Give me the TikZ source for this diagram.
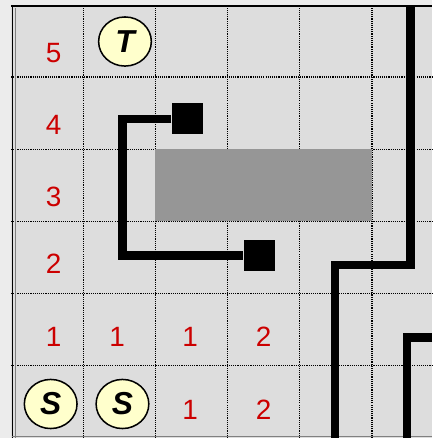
\documentclass[tikz,border=0pt]{standalone}
\usepackage{fontspec}
\setmainfont{Liberation Sans}
\usetikzlibrary{shapes.geometric}

\definecolor{outerbg}{RGB}{236,236,236}
\definecolor{boardbg}{RGB}{221,221,221}
\definecolor{blockgray}{RGB}{150,150,150}
\definecolor{numred}{RGB}{204,0,0}
\definecolor{discfill}{RGB}{255,255,204}

\tikzset{
	gridline/.style={line width=0.45pt, dash pattern=on 0.45pt off 0.4pt},
	cellnum/.style={text=numred, inner sep=0pt, font=\fontsize{11}{13}\selectfont},
	letterdisc/.style={ellipse, draw, line width=0.6pt, fill=discfill,
		minimum width=0.73cm, minimum height=0.68cm, inner sep=0pt,
		font=\fontsize{12.5}{14}\selectfont\bfseries\itshape},
	wire/.style={line width=3.35pt},
	termbox/.style={fill=black, minimum size=0.43cm, inner sep=0pt},
}

\begin{document}
\begin{tikzpicture}

	% Page and board
	\useasboundingbox (-0.152,0) rectangle (5.831,6.066);
	\fill[outerbg] (-0.152,0) rectangle (5.831,6.066);
	\fill[boardbg] (0,0) rectangle (5.831,5.983);

	% Dotted cell lines
	\foreach \x in {1,...,5}
		\draw[gridline] (\x,0) -- (\x,5.983);
	\foreach \y in {1,...,5}
		\draw[gridline] (0,\y) -- (5.831,\y);

	% Blocked cells
	\fill[blockgray] (2,3) rectangle (5,4);

	% Frame
	\draw[line width=0.6pt] (0,5.983) -- (5.831,5.983);
	\draw[line width=0.5pt] (0.02,0) -- (0.02,5.983);
	\draw[line width=0.4pt, gray] (0.065,0) -- (0.065,5.95);
	\draw[line width=0.4pt, gray] (0.02,0.02) -- (5.831,0.02);

	% Terminals and loop wire
	\node[termbox] (sqA) at (2.445,4.42) {};
	\node[termbox] (sqB) at (3.442,2.525) {};
	\coordinate (loopTop) at (1.544,4.42);
	\draw[wire] (sqA) -- (loopTop) |- (sqB);

	% Right hand wires
	\coordinate (railTop) at (5.533,5.983);
	\coordinate (railStep) at (4.488,2.396);
	\coordinate (railEnd) at (4.488,0);
	\draw[wire] (railTop) |- (railStep) -- (railEnd);

	\coordinate (spurIn) at (5.831,1.392);
	\coordinate (spurBend) at (5.485,1.392);
	\coordinate (spurEnd) at (5.485,0);
	\draw[wire] (spurIn) -- (spurBend) -- (spurEnd);

	% Row numbers
	\node[cellnum] (r5) at (0.59,5.33) {5};
	\node[cellnum] (r4) at (0.59,4.335) {4};
	\node[cellnum] (r3) at (0.59,3.34) {3};
	\node[cellnum] (r2) at (0.59,2.41) {2};
	\node[cellnum] (r1) at (0.59,1.40) {1};

	% Distance values
	\node[cellnum] (d11) at (1.47,1.40) {1};
	\node[cellnum] (d21) at (2.48,1.40) {1};
	\node[cellnum] (d31) at (3.50,1.40) {2};
	\node[cellnum] (d20) at (2.48,0.39) {1};
	\node[cellnum] (d30) at (3.50,0.39) {2};

	% Source and target
	\node[letterdisc] (tgt) at (1.579,5.491) {T};
	\node[letterdisc] (srcA) at (0.55,0.471) {S};
	\node[letterdisc] (srcB) at (1.544,0.471) {S};

\end{tikzpicture}
\end{document}
